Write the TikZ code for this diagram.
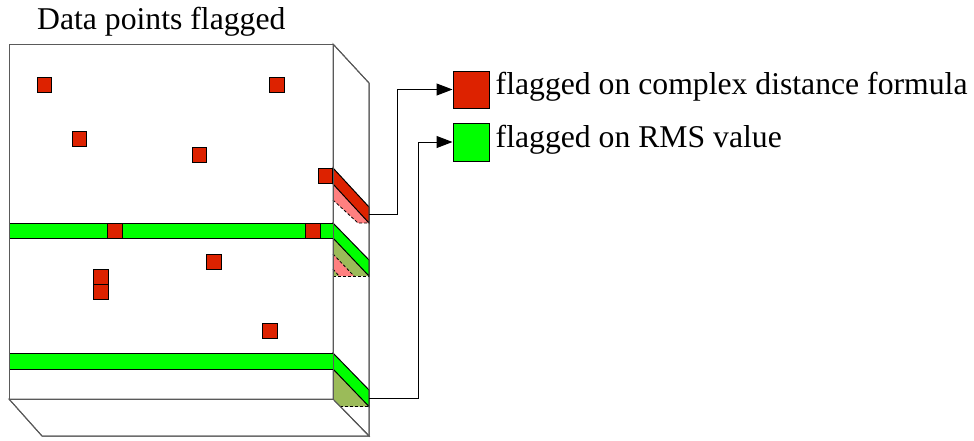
\documentclass[tikz,border=0pt]{standalone}
\usepackage{fontspec}
\setmainfont{Liberation Serif}
\usetikzlibrary{arrows.meta}
\definecolor{flagred}{RGB}{221,34,0}
\definecolor{flaggreen}{RGB}{0,255,0}
\definecolor{olive}{RGB}{155,187,89}
\definecolor{pinkish}{RGB}{255,128,128}
\definecolor{boxgray}{RGB}{90,90,90}
\tikzset{
  boxline/.style={draw=boxgray, line width=1pt},
  bandline/.style={draw=black, line width=1pt},
  flagpt/.style={draw=black, fill=flagred, line width=0.9pt, minimum width=14.5pt, minimum height=15pt, inner sep=0pt, outer sep=0pt},
  keybox/.style={draw=black, line width=1pt, minimum width=36pt, minimum height=37pt, inner sep=0pt},
  lbl/.style={anchor=base west, inner sep=0pt, font=\fontsize{31.7}{38}\selectfont},
  conn/.style={draw=black, line width=1pt, -{Triangle[length=16pt,width=12pt]}},
  shade/.style={draw=black, line width=0.8pt, dashed, dash pattern=on 3pt off 2pt}
}
\begin{document}
\begin{tikzpicture}[x=1pt,y=-1pt]
\useasboundingbox (0,0) rectangle (974,440);
% faces
\fill[white] (9,44) rectangle (333,399);
\filldraw[boxline, fill=white] (333,44) -- (369,83) -- (369,436) -- (333,399) -- cycle;
\filldraw[boxline, fill=white] (9,399) -- (42,436) -- (369,436) -- (333,399) -- cycle;
% side: red band and its shadow
\fill[pinkish] (333,184) -- (369,223) -- (358,223) -- (333,200) -- cycle;
\draw[shade] (333,200) -- (358,223) -- (369,223);
\filldraw[bandline, fill=flagred] (333,168) -- (369,207) -- (369,223) -- (333,184) -- cycle;
% side: first green band and shadow
\fill[olive] (333,238) -- (369,276) -- (333,276) -- cycle;
\fill[pinkish] (333,254) -- (354,276) -- (339,276) -- (333,269) -- cycle;
\draw[shade] (333,254) -- (354,276);
\draw[shade] (333,269) -- (339,276);
\draw[shade] (333,276) -- (369,276);
\filldraw[bandline, fill=flaggreen] (333,223) -- (369,260) -- (369,276) -- (333,238) -- cycle;
% side: second green band and shadow
\fill[olive] (333,369) -- (369,406.5) -- (340,406.5) -- (333,399) -- cycle;
\draw[shade] (340,406.5) -- (369,406.5);
\filldraw[bandline, fill=flaggreen] (333,353) -- (369,390) -- (369,406.5) -- (333,369) -- cycle;
% front bands
\filldraw[bandline, fill=flaggreen] (9,223) rectangle (333,238);
\filldraw[bandline, fill=flaggreen] (9,353) rectangle (333,369);
% outlines on top
\draw[boxline] (9,44) rectangle (333,399);
\draw[boxline] (333,44) -- (369,83) -- (369,436);
\draw[boxline] (9,399) -- (42,436) -- (369,436) -- (333,399);
% flagged points
\node[flagpt] (p1) at (44.5,85) {};
\node[flagpt] (p2) at (277,85) {};
\node[flagpt] (p3) at (79.5,139) {};
\node[flagpt] (p4) at (199.5,154.5) {};
\node[flagpt] (p5) at (325.5,175.5) {};
\node[flagpt] (p6) at (115,230.5) {};
\node[flagpt] (p7) at (313,230.5) {};
\node[flagpt] (p8) at (214,261.5) {};
\node[flagpt] (p9) at (101,276.5) {};
\node[flagpt] (p10) at (101,291.5) {};
\node[flagpt] (p11) at (270,330.5) {};
% title
\node[lbl] (title) at (37,29.3) {Data points flagged};
% legend
\node[keybox, fill=flagred] (redkey) at (471,89.5) {};
\node[keybox, fill=flaggreen, minimum height=38pt] (greenkey) at (471,142) {};
\node[lbl] (redtxt) at (495.5,94.3) {flagged on complex distance formula};
\node[lbl] (greentxt) at (495.5,147.7) {flagged on RMS value};
% connectors
\coordinate (redend) at (369,214.3);
\coordinate (greenend) at (369,398.5);
\draw[conn] (redend) -- ++(28,0) |- (redkey.west);
\draw[conn] (greenend) -- ++(49,0) |- (greenkey.west);
\end{tikzpicture}
\end{document}
